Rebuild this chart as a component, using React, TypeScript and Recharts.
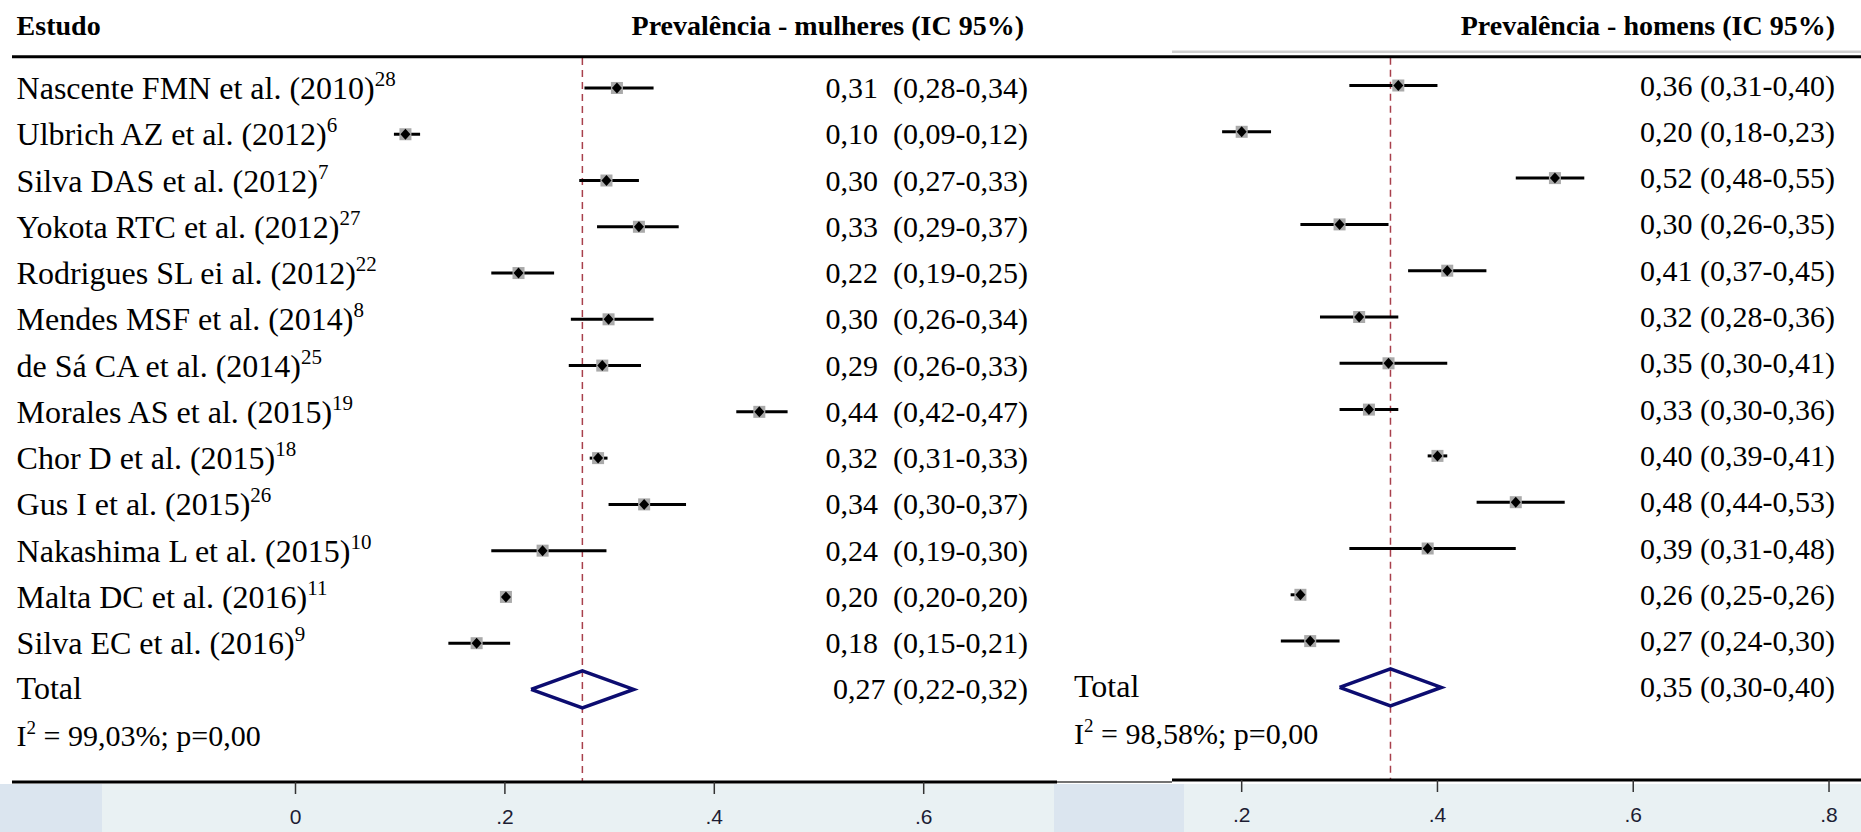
import React from 'react';
import { ScatterChart, Scatter, XAxis, YAxis, ErrorBar, ReferenceLine } from 'recharts';

// ---------- data ----------
const studies = [
  'Nascente FMN et al. (2010)',
  'Ulbrich AZ et al. (2012)',
  'Silva DAS et al. (2012)',
  'Yokota RTC et al. (2012)',
  'Rodrigues SL ei al. (2012)',
  'Mendes MSF et al. (2014)',
  'de Sá CA et al. (2014)',
  'Morales AS et al. (2015)',
  'Chor D et al. (2015)',
  'Gus I et al. (2015)',
  'Nakashima L et al. (2015)',
  'Malta DC et al. (2016)',
  'Silva EC et al. (2016)',
];
const refs = ['28', '6', '7', '27', '22', '8', '25', '19', '18', '26', '10', '11', '9'];

const womenEst = [0.307, 0.105, 0.297, 0.328, 0.213, 0.299, 0.293, 0.443, 0.289, 0.333, 0.236, 0.201, 0.173];
const womenLo = [0.276, 0.094, 0.271, 0.288, 0.187, 0.263, 0.261, 0.421, 0.281, 0.299, 0.187, 0.2, 0.146];
const womenHi = [0.342, 0.119, 0.328, 0.366, 0.247, 0.342, 0.33, 0.47, 0.298, 0.373, 0.297, 0.202, 0.205];
const womenLabels = [
  '0,31  (0,28-0,34)', '0,10  (0,09-0,12)', '0,30  (0,27-0,33)', '0,33  (0,29-0,37)',
  '0,22  (0,19-0,25)', '0,30  (0,26-0,34)', '0,29  (0,26-0,33)', '0,44  (0,42-0,47)',
  '0,32  (0,31-0,33)', '0,34  (0,30-0,37)', '0,24  (0,19-0,30)', '0,20  (0,20-0,20)',
  '0,18  (0,15-0,21)',
];

const menEst = [0.36, 0.2, 0.52, 0.3, 0.41, 0.32, 0.35, 0.33, 0.4, 0.48, 0.39, 0.26, 0.27];
const menLo = [0.31, 0.18, 0.48, 0.26, 0.37, 0.28, 0.3, 0.3, 0.39, 0.44, 0.31, 0.25, 0.24];
const menHi = [0.4, 0.23, 0.55, 0.35, 0.45, 0.36, 0.41, 0.36, 0.41, 0.53, 0.48, 0.26, 0.3];
const menLabels = [
  '0,36 (0,31-0,40)', '0,20 (0,18-0,23)', '0,52 (0,48-0,55)', '0,30 (0,26-0,35)',
  '0,41 (0,37-0,45)', '0,32 (0,28-0,36)', '0,35 (0,30-0,41)', '0,33 (0,30-0,36)',
  '0,40 (0,39-0,41)', '0,48 (0,44-0,53)', '0,39 (0,31-0,48)', '0,26 (0,25-0,26)',
  '0,27 (0,24-0,30)',
];

const pooledWomen = { est: 0.274, lo: 0.225, hi: 0.323 };
const pooledMen = { est: 0.352, lo: 0.3, hi: 0.404 };
const pooledWomenLabel = '0,27 (0,22-0,32)';
const pooledMenLabel = '0,35 (0,30-0,40)';
const hetWomen = '= 99,03%; p=0,00';
const hetMen = '= 98,58%; p=0,00';

const leftTicks = [0, 0.2, 0.4, 0.6];
const rightTicks = [0.2, 0.4, 0.6, 0.8];
const rowTicks = [0, 1, 2, 3, 4, 5, 6, 7, 8, 9, 10, 11, 12, 13, 14];

// ---------- layout ----------
const W = 1861;
const H = 832;
const serif = '"Liberation Serif", "Times New Roman", Times, serif';
const sans = '"Liberation Sans Narrow", "Liberation Sans", Arial, sans-serif';
const TOTAL_ROW = 13;
const HET_ROW = 14;
const DIAMOND_HALF = 0.4;

const L_MIN = (12 - 295.5) / 1047;
const L_MAX = (1057 - 295.5) / 1047;
const R_MIN = (1172 - 1045.9) / 978.9;
const R_MAX = (1861 - 1045.9) / 978.9;

const buildRows = (est: number[], lo: number[], hi: number[]) =>
  est.map((e, i) => ({ x: e, y: i, err: [e - lo[i], hi[i] - e] }));

const buildDiamond = (p: { est: number; lo: number; hi: number }) => [
  { x: p.lo, y: TOTAL_ROW },
  { x: p.est, y: TOTAL_ROW - DIAMOND_HALF },
  { x: p.hi, y: TOTAL_ROW },
  { x: p.est, y: TOTAL_ROW + DIAMOND_HALF },
  { x: p.lo, y: TOTAL_ROW },
];

const womenRows = buildRows(womenEst, womenLo, womenHi);
const menRows = buildRows(menEst, menLo, menHi);
const womenDiamond = buildDiamond(pooledWomen);
const menDiamond = buildDiamond(pooledMen);

const fmtTick = (v: number) => (v === 0 ? '0' : v.toFixed(1).replace(/^0/, ''));

const StudyMarker = (props: any) => {
  const { cx, cy } = props;
  if (cx == null || cy == null) return <g />;
  return (
    <g>
      <rect x={cx - 6} y={cy - 6} width={12} height={12} fill="#aaaaaa" />
      <polygon
        points={`${cx - 5},${cy} ${cx},${cy - 5.5} ${cx + 5},${cy} ${cx},${cy + 5.5}`}
        fill="#000"
      />
    </g>
  );
};

const txt = { fontFamily: serif, fontSize: 30, fill: '#000', style: { whiteSpace: 'pre' as const } };
const nameTxt = { ...txt, fontSize: 32 };

const LeftTick = (props: any) => {
  const { y, payload } = props;
  const i = payload.value;
  const by = y + 10;
  if (i < studies.length) {
    return (
      <g>
        <text x={16.6} y={by + 1} {...nameTxt}>
          {studies[i]}
          <tspan fontSize={21} dy={-13}>{refs[i]}</tspan>
        </text>
        <text x={1028} y={by} textAnchor="end" {...txt}>{womenLabels[i]}</text>
      </g>
    );
  }
  if (i === TOTAL_ROW) {
    return (
      <g>
        <text x={16.6} y={by} {...nameTxt}>Total</text>
        <text x={1028} y={by} textAnchor="end" {...txt}>{pooledWomenLabel}</text>
      </g>
    );
  }
  if (i === HET_ROW) {
    return (
      <text x={16.6} y={by} {...txt}>
        I<tspan fontSize={19} dy={-12}>2</tspan>
        <tspan dy={12}>{' ' + hetWomen}</tspan>
      </text>
    );
  }
  return <g />;
};

const RightTick = (props: any) => {
  const { y, payload } = props;
  const i = payload.value;
  const by = y + 10;
  if (i < studies.length) {
    return <text x={785} y={by} textAnchor="end" {...txt}>{menLabels[i]}</text>;
  }
  if (i === TOTAL_ROW) {
    return (
      <g>
        <text x={24} y={by} {...nameTxt}>Total</text>
        <text x={785} y={by} textAnchor="end" {...txt}>{pooledMenLabel}</text>
      </g>
    );
  }
  if (i === HET_ROW) {
    return (
      <text x={24} y={by} {...txt}>
        I<tspan fontSize={19} dy={-12}>2</tspan>
        <tspan dy={12}>{' ' + hetMen}</tspan>
      </text>
    );
  }
  return <g />;
};

const axisTick = { fontFamily: sans, fontSize: 21, fill: '#1d1d33' };

export default function App() {
  return (
    <div style={{ position: 'absolute', left: 0, top: 0, width: W, height: H, background: '#fff', overflow: 'hidden' }}>
      <svg style={{ position: 'absolute', left: 0, top: 0 }} width={W} height={H}>
        <rect x={0} y={784} width={102} height={48} fill="#dbe5ef" />
        <rect x={102} y={784} width={952} height={48} fill="#e9f1f3" />
        <rect x={1054} y={784} width={130} height={48} fill="#dbe5ef" />
        <rect x={1184} y={784} width={677} height={48} fill="#e9f1f3" />
        <line x1={1054} y1={782} x2={1172} y2={782} stroke="#444" strokeWidth={1.5} />
      </svg>

      <div style={{ position: 'absolute', left: 0, top: 0 }}>
        <ScatterChart width={1057} height={H} margin={{ top: 41.7, right: 0, bottom: 10, left: 11 }}>
          <XAxis
            type="number"
            dataKey="x"
            domain={[L_MIN, L_MAX]}
            allowDataOverflow
            ticks={leftTicks}
            interval={0}
            tickFormatter={fmtTick}
            height={40}
            tickSize={12}
            tickMargin={15}
            axisLine={{ stroke: '#000', strokeWidth: 3 }}
            tickLine={{ stroke: '#333', strokeWidth: 1.5 }}
            tick={axisTick}
          />
          <YAxis
            type="number"
            dataKey="y"
            domain={[-1, 15]}
            reversed
            allowDataOverflow
            ticks={rowTicks}
            interval={0}
            width={1}
            axisLine={false}
            tickLine={false}
            tick={(p: any) => <LeftTick {...p} />}
          />
          <ReferenceLine
            segment={[{ x: pooledWomen.est, y: -0.65 }, { x: pooledWomen.est, y: 15 }]}
            stroke="#a8404c"
            strokeDasharray="7 5"
            strokeWidth={1.5}
          />
          <Scatter data={womenRows} shape={StudyMarker} isAnimationActive={false}>
            <ErrorBar dataKey="err" direction="x" width={0} stroke="#000" strokeWidth={3} />
          </Scatter>
          <Scatter
            data={womenDiamond}
            line={{ stroke: '#0c0c70', strokeWidth: 3.5 }}
            lineType="joint"
            shape={() => <g />}
            isAnimationActive={false}
          />
        </ScatterChart>
      </div>

      <div style={{ position: 'absolute', left: 1050, top: 0 }}>
        <ScatterChart width={811} height={H} margin={{ top: 39.2, right: 0, bottom: 12, left: 121 }}>
          <XAxis
            type="number"
            dataKey="x"
            domain={[R_MIN, R_MAX]}
            allowDataOverflow
            ticks={rightTicks}
            interval={0}
            tickFormatter={fmtTick}
            height={40}
            tickSize={12}
            tickMargin={15}
            axisLine={{ stroke: '#000', strokeWidth: 3 }}
            tickLine={{ stroke: '#333', strokeWidth: 1.5 }}
            tick={axisTick}
          />
          <YAxis
            type="number"
            dataKey="y"
            domain={[-1, 15]}
            reversed
            allowDataOverflow
            ticks={rowTicks}
            interval={0}
            width={1}
            axisLine={false}
            tickLine={false}
            tick={(p: any) => <RightTick {...p} />}
          />
          <ReferenceLine
            segment={[{ x: pooledMen.est, y: -0.6 }, { x: pooledMen.est, y: 15 }]}
            stroke="#a8404c"
            strokeDasharray="7 5"
            strokeWidth={1.5}
          />
          <Scatter data={menRows} shape={StudyMarker} isAnimationActive={false}>
            <ErrorBar dataKey="err" direction="x" width={0} stroke="#000" strokeWidth={3} />
          </Scatter>
          <Scatter
            data={menDiamond}
            line={{ stroke: '#0c0c70', strokeWidth: 3.5 }}
            lineType="joint"
            shape={() => <g />}
            isAnimationActive={false}
          />
        </ScatterChart>
      </div>

      <svg style={{ position: 'absolute', left: 0, top: 0, pointerEvents: 'none' }} width={W} height={70}>
        <line x1={1172} y1={51.7} x2={W} y2={51.7} stroke="#cfcfcf" strokeWidth={2.5} />
        <line x1={12} y1={56.7} x2={W} y2={56.7} stroke="#000" strokeWidth={3} />
        <text x={16.6} y={35} fontFamily={serif} fontSize={28} fontWeight="bold">Estudo</text>
        <text x={1024} y={35} fontFamily={serif} fontSize={28} fontWeight="bold" textAnchor="end">
          Prevalência - mulheres (IC 95%)
        </text>
        <text x={1835} y={35} fontFamily={serif} fontSize={28} fontWeight="bold" textAnchor="end">
          Prevalência - homens (IC 95%)
        </text>
      </svg>
    </div>
  );
}
